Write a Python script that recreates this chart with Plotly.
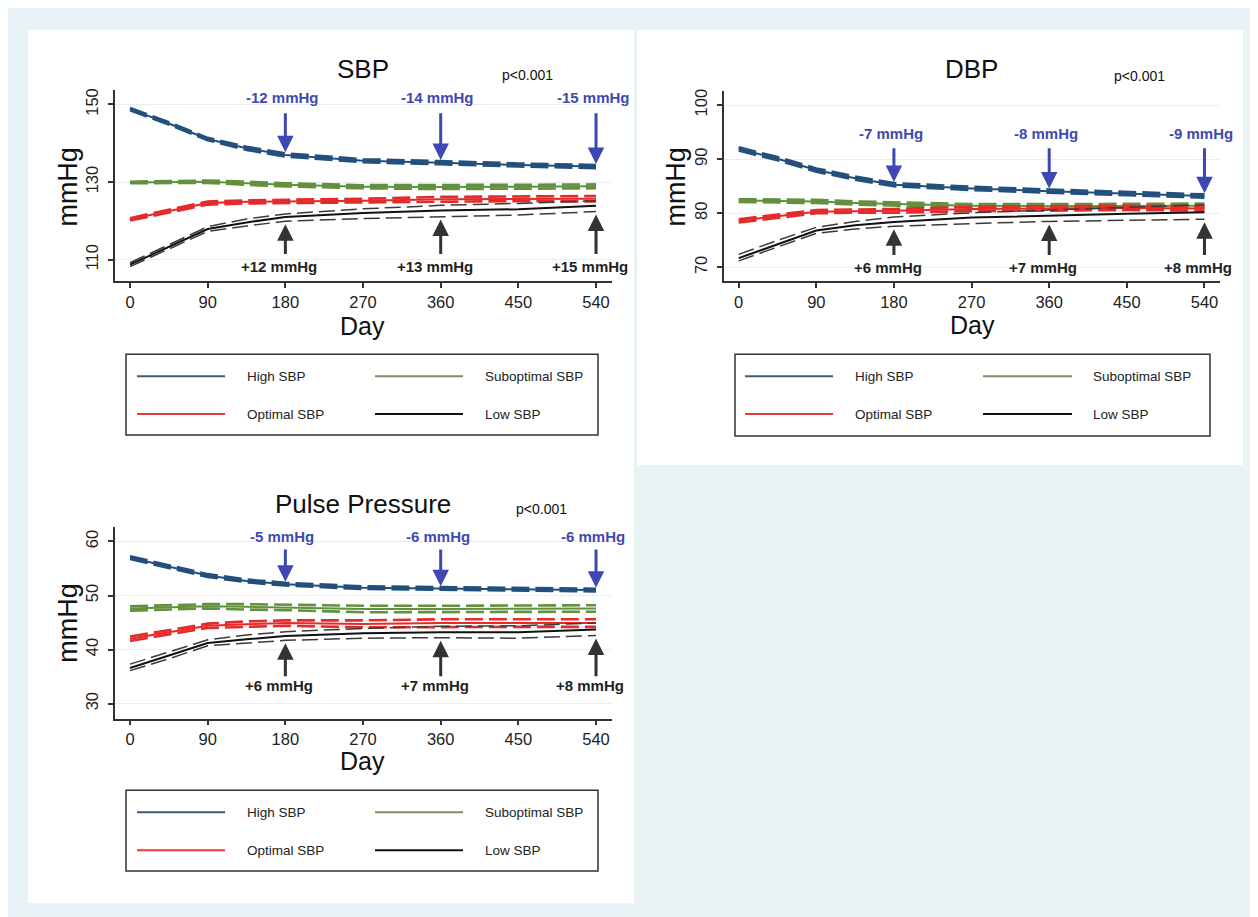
import plotly.graph_objects as go

# ---------------- data ----------------
DAYS = [0, 45, 90, 135, 180, 270, 360, 450, 540]
X_TICKS = [0, 90, 180, 270, 360, 450, 540]
GROUPS = ["High SBP", "Suboptimal SBP", "Optimal SBP", "Low SBP"]

SBP_HIGH = [148.8, 145.1, 141.1, 138.7, 137.0, 135.5, 135.0, 134.4, 134.0]
SBP_HIGH_LO = [148.5, 144.8, 140.8, 138.3, 136.6, 135.1, 134.6, 134.0, 133.6]
SBP_HIGH_HI = [149.1, 145.4, 141.4, 139.1, 137.4, 135.9, 135.4, 134.8, 134.4]
SBP_SUB = [129.9, 130.0, 130.1, 129.7, 129.3, 128.8, 128.7, 128.8, 128.9]
SBP_SUB_LO = [129.7, 129.8, 129.8, 129.3, 128.9, 128.4, 128.2, 128.3, 128.4]
SBP_SUB_HI = [130.1, 130.2, 130.4, 130.1, 129.7, 129.2, 129.2, 129.3, 129.4]
SBP_OPT = [120.4, 122.5, 124.6, 124.9, 125.0, 125.2, 125.6, 125.7, 125.7]
SBP_OPT_LO = [120.1, 122.2, 124.2, 124.5, 124.6, 124.7, 125.0, 125.1, 125.0]
SBP_OPT_HI = [120.7, 122.8, 125.0, 125.3, 125.4, 125.7, 126.2, 126.3, 126.4]
SBP_LOW = [108.7, 113.3, 117.9, 119.6, 121.0, 122.0, 122.7, 123.0, 123.9]
SBP_LOW_LO = [108.2, 112.8, 117.3, 118.7, 119.9, 120.6, 121.1, 121.5, 122.4]
SBP_LOW_HI = [109.2, 113.9, 118.5, 120.5, 121.8, 123.1, 124.0, 124.5, 125.2]

DBP_HIGH = [91.9, 90.1, 88.0, 86.5, 85.3, 84.6, 84.1, 83.7, 83.2]
DBP_HIGH_LO = [91.6, 89.8, 87.7, 86.2, 85.0, 84.3, 83.8, 83.4, 82.9]
DBP_HIGH_HI = [92.2, 90.4, 88.3, 86.8, 85.6, 84.9, 84.4, 84.0, 83.5]
DBP_SUB = [82.35, 82.3, 82.2, 81.9, 81.7, 81.4, 81.3, 81.4, 81.4]
DBP_SUB_LO = [82.1, 82.0, 81.9, 81.6, 81.4, 81.1, 80.9, 81.0, 81.0]
DBP_SUB_HI = [82.6, 82.6, 82.5, 82.2, 82.0, 81.7, 81.7, 81.8, 81.8]
DBP_OPT = [78.6, 79.5, 80.3, 80.4, 80.45, 80.8, 80.9, 81.0, 80.9]
DBP_OPT_LO = [78.3, 79.2, 80.0, 80.1, 80.1, 80.4, 80.5, 80.6, 80.5]
DBP_OPT_HI = [78.9, 79.8, 80.6, 80.7, 80.8, 81.2, 81.3, 81.4, 81.3]
DBP_LOW = [71.7, 74.3, 76.8, 77.8, 78.4, 79.2, 79.6, 79.9, 80.2]
DBP_LOW_LO = [71.2, 73.7, 76.3, 77.1, 77.6, 78.1, 78.5, 78.7, 78.9]
DBP_LOW_HI = [72.4, 75.0, 77.4, 78.5, 79.3, 80.1, 80.6, 81.1, 81.6]

PP_HIGH = [57.0, 55.3, 53.7, 52.7, 52.1, 51.45, 51.3, 51.2, 51.0]
PP_HIGH_LO = [56.75, 55.05, 53.45, 52.45, 51.85, 51.2, 51.05, 50.95, 50.75]
PP_HIGH_HI = [57.25, 55.55, 53.95, 52.95, 52.35, 51.7, 51.55, 51.45, 51.25]
PP_SUB = [47.6, 47.8, 48.0, 47.9, 47.8, 47.5, 47.5, 47.6, 47.6]
PP_SUB_LO = [47.2, 47.4, 47.6, 47.4, 47.3, 46.9, 46.9, 47.0, 47.0]
PP_SUB_HI = [48.0, 48.2, 48.4, 48.4, 48.3, 48.1, 48.1, 48.2, 48.2]
PP_OPT = [42.0, 43.2, 44.4, 44.7, 44.9, 44.75, 44.9, 44.9, 44.9]
PP_OPT_LO = [41.6, 42.8, 44.0, 44.2, 44.4, 44.1, 44.2, 44.2, 44.2]
PP_OPT_HI = [42.4, 43.6, 44.8, 45.2, 45.4, 45.4, 45.6, 45.6, 45.6]
PP_LOW = [36.6, 38.9, 41.2, 41.9, 42.5, 43.0, 43.2, 43.2, 43.7]
PP_LOW_LO = [36.1, 38.3, 40.7, 41.2, 41.7, 42.1, 42.2, 42.1, 42.6]
PP_LOW_HI = [37.3, 39.5, 41.8, 42.7, 43.3, 43.9, 44.3, 44.4, 44.9]

ARROW_DAYS = [180, 360, 540]
SBP_DROP = ["-12 mmHg", "-14 mmHg", "-15 mmHg"]
SBP_RISE = ["+12 mmHg", "+13 mmHg", "+15 mmHg"]
DBP_DROP = ["-7 mmHg", "-8 mmHg", "-9 mmHg"]
DBP_RISE = ["+6 mmHg", "+7 mmHg", "+8 mmHg"]
PP_DROP = ["-5 mmHg", "-6 mmHg", "-6 mmHg"]
PP_RISE = ["+6 mmHg", "+7 mmHg", "+8 mmHg"]
P_TEXT = "p<0.001"

# ---------------- styling / layout ----------------
FONT = "Liberation Sans, Arial, sans-serif"
W, H, OFF = 1250, 909, 8
C_HIGH, C_SUB, C_OPT, C_LOW = "#234f7d", "#63903c", "#e42a2a", "#111111"
LEG_COLORS = ["#3d5b80", "#7c9160", "#e23b3b", "#111111"]
C_BLUE_ARROW, C_DARK_ARROW = "#3d48b3", "#333333"


def fx(x):
    return (x - OFF) / W


def fy(y):
    return 1 - (y - OFF) / H


panels = [
    dict(key="", title="SBP", series=[
        (SBP_HIGH, SBP_HIGH_LO, SBP_HIGH_HI), (SBP_SUB, SBP_SUB_LO, SBP_SUB_HI),
        (SBP_OPT, SBP_OPT_LO, SBP_OPT_HI), (SBP_LOW, SBP_LOW_LO, SBP_LOW_HI)],
        drop=SBP_DROP, rise=SBP_RISE,
        px=(115, 612), py=(88.3, 280), xr=[-17.4, 558.5], yr=[104.4, 153.7],
        yt=[110, 130, 150], lv=(151.7, 148.1, 111.1, 108.3),
        title_xy=(363, 67), p_xy=(527, 73), ytit_xy=(68, 185), xtit_xy=(363, 325),
        legend_box=(126, 353, 598, 434), leg_rows=(375, 413), leg_cols=(137, 225, 245, 375, 463, 483)),
    dict(key="2", title="DBP", series=[
        (DBP_HIGH, DBP_HIGH_LO, DBP_HIGH_HI), (DBP_SUB, DBP_SUB_LO, DBP_SUB_HI),
        (DBP_OPT, DBP_OPT_LO, DBP_OPT_HI), (DBP_LOW, DBP_LOW_LO, DBP_LOW_HI)],
        drop=DBP_DROP, rise=DBP_RISE,
        px=(724, 1220), py=(89.3, 280), xr=[-17, 558], yr=[67.4, 102.6],
        yt=[70, 80, 90, 100], lv=(94.8, 92.3, 72.0, 69.9),
        title_xy=(971, 67), p_xy=(1139, 74), ytit_xy=(676, 185), xtit_xy=(972, 324),
        legend_box=(735, 353, 1210, 435), leg_rows=(375, 413), leg_cols=(745, 833, 853, 983, 1072, 1091)),
    dict(key="3", title="Pulse Pressure", series=[
        (PP_HIGH, PP_HIGH_LO, PP_HIGH_HI), (PP_SUB, PP_SUB_LO, PP_SUB_HI),
        (PP_OPT, PP_OPT_LO, PP_OPT_HI), (PP_LOW, PP_LOW_LO, PP_LOW_HI)],
        drop=PP_DROP, rise=PP_RISE,
        px=(115, 612), py=(526, 718.3), xr=[-17.4, 558.5], yr=[27.2, 62.7],
        yt=[30, 40, 50, 60], lv=(61.0, 58.8, 34.8, 33.3),
        title_xy=(363, 503), p_xy=(541, 508), ytit_xy=(68, 622), xtit_xy=(363, 761),
        legend_box=(126, 790, 598, 871), leg_rows=(812, 850), leg_cols=(137, 225, 245, 375, 463, 483)),
]

fig = go.Figure()
shapes = []
annotations = []


def paper_text(x, y, text, size, color="#111111", xanchor="center", angle=0):
    return dict(x=fx(x), y=fy(y), xref="paper", yref="paper", text=text, showarrow=False,
                xanchor=xanchor, yanchor="middle", textangle=angle,
                font=dict(family=FONT, size=size, color=color))


# background panels
shapes.append(dict(type="rect", xref="paper", yref="paper", x0=fx(28), x1=fx(634), y0=fy(903), y1=fy(28),
                   fillcolor="white", line=dict(width=0), layer="below"))
shapes.append(dict(type="rect", xref="paper", yref="paper", x0=fx(637), x1=fx(1243), y0=fy(464), y1=fy(28),
                   fillcolor="white", line=dict(width=0), layer="below"))

colors = [C_HIGH, C_SUB, C_OPT, C_LOW]
for p in panels:
    xa, ya = "x" + p["key"], "y" + p["key"]
    for gi, (mean, lo, hi) in enumerate(p["series"]):
        col = colors[gi]
        is_low = gi == 3
        ci_col = "#3a3a3a" if is_low else col
        ci_w = 1.5 if is_low else 2.6
        dash = "16px,6px" if is_low else "18px,6px"
        for arr in (lo, hi):
            fig.add_trace(go.Scatter(x=DAYS, y=arr, mode="lines", xaxis=xa, yaxis=ya, showlegend=False,
                                     line=dict(color=ci_col, width=ci_w, dash=dash), hoverinfo="skip"))
        fig.add_trace(go.Scatter(x=DAYS, y=mean, mode="lines", xaxis=xa, yaxis=ya, showlegend=False,
                                 name=GROUPS[gi], line=dict(color=col, width=2)))

    axis_common = dict(showline=True, linecolor="#333333", linewidth=1.5, ticks="outside", ticklen=5,
                       tickwidth=1.5, tickcolor="#333333", zeroline=False,
                       tickfont=dict(family=FONT, size=16.5, color="#222222"))
    fig.layout["xaxis" + p["key"]] = dict(domain=[fx(p["px"][0]), fx(p["px"][1])], range=p["xr"],
                                          tickvals=X_TICKS, showgrid=False, anchor=ya, ticklabelstandoff=0,
                                          **axis_common)
    fig.layout["yaxis" + p["key"]] = dict(domain=[fy(p["py"][1]), fy(p["py"][0])], range=p["yr"],
                                          tickvals=p["yt"], tickangle=-90, showgrid=True, gridcolor="#e8eef1",
                                          gridwidth=1, anchor=xa, ticklabelstandoff=4, **axis_common)

    txt_blue, tail_blue, tail_dark, txt_dark = p["lv"]
    high_hi = p["series"][0][2]
    low_lo = p["series"][3][1]
    for i, d in enumerate(ARROW_DAYS):
        k = DAYS.index(d)
        annotations.append(dict(x=d, y=high_hi[k], xref=xa, yref=ya, ax=d, ay=tail_blue, axref=xa, ayref=ya,
                                text="", showarrow=True, arrowhead=2, arrowwidth=3, arrowsize=1.1,
                                arrowcolor=C_BLUE_ARROW, standoff=1))
        annotations.append(dict(x=d, y=txt_blue, xref=xa, yref=ya, text="<b>" + p["drop"][i] + "</b>",
                                showarrow=False, xshift=-3, xanchor="center", yanchor="middle",
                                font=dict(family=FONT, size=15, color="#4049b0")))
        annotations.append(dict(x=d, y=low_lo[k], xref=xa, yref=ya, ax=d, ay=tail_dark, axref=xa, ayref=ya,
                                text="", showarrow=True, arrowhead=2, arrowwidth=3, arrowsize=1.1,
                                arrowcolor=C_DARK_ARROW, standoff=3))
        annotations.append(dict(x=d, y=txt_dark, xref=xa, yref=ya, text="<b>" + p["rise"][i] + "</b>",
                                showarrow=False, xshift=-6, xanchor="center", yanchor="middle",
                                font=dict(family=FONT, size=15, color="#222222")))

    # titles
    annotations.append(paper_text(*p["title_xy"], p["title"], 26))
    annotations.append(paper_text(*p["p_xy"], P_TEXT, 14))
    annotations.append(paper_text(*p["ytit_xy"], "mmHg", 27, angle=-90))
    annotations.append(paper_text(*p["xtit_xy"], "Day", 25))

    # legend box
    bx0, by0, bx1, by1 = p["legend_box"]
    shapes.append(dict(type="rect", xref="paper", yref="paper", x0=fx(bx0), x1=fx(bx1), y0=fy(by1), y1=fy(by0),
                       line=dict(color="#333333", width=1.5), fillcolor="white"))
    r1, r2 = p["leg_rows"]
    c = p["leg_cols"]
    slots = [(c[0], c[1], c[2], r1), (c[3], c[4], c[5], r1), (c[0], c[1], c[2], r2), (c[3], c[4], c[5], r2)]
    for gi, (lx0, lx1, tx, ry) in enumerate(slots):
        shapes.append(dict(type="line", xref="paper", yref="paper", x0=fx(lx0), x1=fx(lx1), y0=fy(ry), y1=fy(ry),
                           line=dict(color=LEG_COLORS[gi], width=2)))
        annotations.append(paper_text(tx, ry, GROUPS[gi], 13.5, color="#222222", xanchor="left"))

fig.update_layout(width=W, height=H, margin=dict(l=0, r=0, t=0, b=0), autosize=False,
                  paper_bgcolor="#e9f2f4", plot_bgcolor="rgba(0,0,0,0)",
                  shapes=shapes, annotations=annotations, showlegend=False,
                  font=dict(family=FONT))

fig.write_html("out.html")
